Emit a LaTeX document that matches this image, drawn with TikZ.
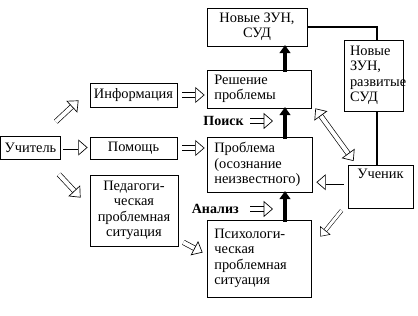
\documentclass[tikz,border=0pt]{standalone}
\usepackage{fontspec}
\setmainfont{Liberation Serif}
\usetikzlibrary{arrows.meta,calc}

\begin{document}
\begin{tikzpicture}[
    x=0.75pt, y=-0.75pt,
    font=\fontsize{10.8}{11.6}\selectfont,
    box/.style={rectangle, draw, line width=0.6pt, inner sep=3pt, align=center},
    lbox/.style={box, align=left, inner xsep=5.5pt},
    harrow/.style={double, double distance=3pt, line width=0.5pt, -{Triangle[open, length=7pt, width=12pt]}},
    thinarrow/.style={double, double distance=2.2pt, line width=0.4pt, -{Triangle[open, length=6pt, width=10pt]}},
    blkarrow/.style={line width=3pt, -{Triangle[length=6pt, width=8pt]}},
    thickline/.style={line width=2.1pt},
]
\useasboundingbox (0,0) rectangle (418,316);
\coordinate (arrx) at (285,0);
\coordinate (linx) at (377,0);
\coordinate (searchtip) at (273,121);
\coordinate (analysistip) at (273,209);

% left column
\node[box, minimum width=45pt, minimum height=17.25pt] (teacher) at (30.5,147.5) {Учитель};
\node[box, minimum width=65.25pt, minimum height=18pt] (info) at (133.5,95) {Информация};
\node[box, minimum width=65.25pt, minimum height=16.5pt] (help) at (133.5,148) {Помощь};
\node[box, minimum width=66pt, minimum height=53.25pt] (pedsit) at (134,210.5) {Педагоги-\\ческая\\проблемная\\ситуация};

% middle column
\node[box, minimum width=75pt, minimum height=28.5pt] (newzun) at (257,27) {Новые ЗУН,\\СУД};
\node[lbox, text width=67pt, minimum height=28.5pt] (solve) at (259,89) {Решение\\проблемы};
\node[lbox, text width=67.75pt, minimum height=41.25pt] (problem) at (259.5,164.5) {Проблема\\(осознание\\неизвестного)};
\node[lbox, text width=67pt, minimum height=57.75pt] (psysit) at (259,258.5) {Психологи-\\ческая\\проблемная\\ситуация};

% right column
\node[lbox, inner xsep=4.5pt, text width=35.25pt, minimum height=53.25pt] (newzun2) at (373.5,75.5) {Новые\\ЗУН,\\развитые\\СУД};
\node[box, anchor=north, minimum width=48.75pt, text height=7pt, text depth=19pt] (pupil) at (380.5,165) {Ученик};

% labels
\node[font=\fontsize{10.5}{11.6}\selectfont\bfseries, anchor=east, inner sep=0pt] (search) at (244,121) {Поиск};
\node[font=\fontsize{10.5}{11.6}\selectfont\bfseries, anchor=east, inner sep=0pt] (analysis) at (239,209) {Анализ};

% hollow arrows
\draw[harrow] ([xshift=1.5pt]teacher.east) -- ([xshift=-1.5pt]teacher.east -| help.west);
\draw[harrow] ([xshift=3.5pt]help.east) -- ([xshift=-1.5pt]help.east -| problem.west);
\draw[harrow] ([xshift=3.5pt]info.east) -- ([xshift=-1.5pt]info.east -| solve.west);
\draw[harrow] ($(teacher.north east)+(-5,-14)$) -- ($(info.south west)+(-11,-7)$);
\draw[harrow] ($(teacher.south east)+(-2,15)$) -- ($(pedsit.north west)+(-9,23)$);
\draw[harrow] ($(pedsit.south east)+(5,-4)$) -- ($(psysit.west)+(-4,-6)$);
\draw[harrow] ($(pupil.west)+(-4,-4.5)$) -- ($(problem.east |- pupil.west)+(4,-4.5)$);
\draw[thinarrow] ($(pupil.south west)+(-6,2)$) -- ($(psysit.north east)+(9,17)$);
\draw[harrow, {Triangle[open, length=7pt, width=12pt]}-{Triangle[open, length=7pt, width=12pt]}] ($(solve.south east)+(4,0)$) -- ($(pupil.north west)+(6,-4)$);
\draw[harrow] ([xshift=4.5pt]search.east) -- (searchtip);
\draw[harrow] ([xshift=8.5pt]analysis.east) -- (analysistip);

% black arrows
\draw[blkarrow] ([yshift=-1.5pt]solve.north -| arrx) -- ([yshift=1pt]newzun.south -| arrx);
\draw[blkarrow] ([yshift=-1.5pt]problem.north -| arrx) -- ([yshift=1pt]solve.south -| arrx);
\draw[blkarrow] ([yshift=-1.5pt]psysit.north -| arrx) -- ([yshift=1pt]problem.south -| arrx);

% thick connector
\draw[thickline] (newzun.east) -| (newzun2.north -| linx);
\draw[thickline] (newzun2.south -| linx) -- (pupil.north -| linx);
\end{tikzpicture}
\end{document}
